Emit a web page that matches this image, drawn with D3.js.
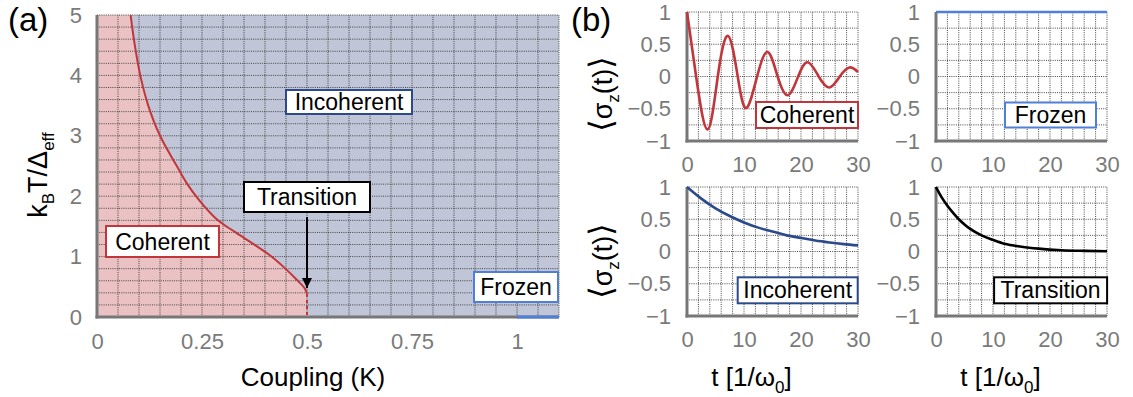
<!DOCTYPE html>
<html><head><meta charset="utf-8">
<script src="https://cdn.jsdelivr.net/npm/d3@7"></script>
<style>
body{margin:0;background:#fff;}
text{font-family:"Liberation Sans",Arial,sans-serif;}
</style></head>
<body><svg id="c" width="1133" height="397"></svg>
<script>
// ---------- DATA ----------
// Panel (a): phase boundary (coupling K vs k_B T / Delta_eff)
const boundaryK = [0.08, 0.09, 0.103, 0.122, 0.15, 0.19, 0.215, 0.245, 0.285, 0.33, 0.37, 0.41, 0.444, 0.475, 0.495, 0.5];
const boundaryT = [5, 4.5, 4, 3.5, 3, 2.5, 2.2, 1.92, 1.62, 1.4, 1.22, 1.03, 0.83, 0.62, 0.47, 0.38];
const transitionK = 0.5;
const frozenK = [1, 1.1];
const xTicksA = [0, 0.25, 0.5, 0.75, 1];
const xTickLabelsA = ["0", "0.25", "0.5", "0.75", "1"];
const yTicksA = [0, 1, 2, 3, 4, 5];

// Panel (b): <sigma_z(t)> time traces
const coherentTime = [0, 1.6, 3.6, 5.4, 7.2, 8.9, 10.4, 12.3, 14.15, 15.9, 17.7, 19.5, 21.2, 23.1, 25.0, 26.8, 28.5, 30];
const coherentVal  = [1, 0, -0.82, 0, 0.63, 0, -0.49, 0, 0.38, 0, -0.29, 0, 0.22, 0, -0.17, 0, 0.14, 0.07];
const frozenTime = [0, 30];
const frozenVal  = [1, 1];
const incoherentTime = [0, 2.5, 5, 7.5, 10, 12.5, 15, 17.5, 20, 22.5, 25, 27.5, 30];
const incoherentVal  = [1, 0.82, 0.67, 0.55, 0.45, 0.37, 0.31, 0.25, 0.21, 0.17, 0.14, 0.115, 0.095];
const transitionTime = [0, 1, 2, 3, 4, 5, 6, 8, 10, 12, 15, 18, 22, 26, 30];
const transitionVal  = [1, 0.84, 0.71, 0.6, 0.5, 0.42, 0.35, 0.25, 0.18, 0.12, 0.075, 0.045, 0.02, 0.01, 0.005];
const xTicksB = [0, 10, 20, 30];
const yTicksB = [-1, -0.5, 0, 0.5, 1];
const yTickLabelsB = ["\u22121", "\u22120.5", "0", "0.5", "1"];

// ---------- STYLE ----------
const RED = "#c1363b", NAVY = "#2b4a8b", LBLUE = "#4f80d6", BLACK = "#000";
const PINK = "#ebc2c4", BLUEGRAY = "#c0c6d8", AXIS = "#777", TICKC = "#7a7a7a";

const svg = d3.select("#c");

function gridLines(g, xs, ys, x, y) {
  g.selectAll(null).data(xs).join("line")
    .attr("x1", d => x(d)).attr("x2", d => x(d))
    .attr("y1", y.range()[0]).attr("y2", y.range()[1])
    .attr("stroke", "#333").attr("stroke-width", 0.9).attr("stroke-dasharray", "1,1.2");
  g.selectAll(null).data(ys).join("line")
    .attr("y1", d => y(d)).attr("y2", d => y(d))
    .attr("x1", x.range()[0]).attr("x2", x.range()[1])
    .attr("stroke", "#333").attr("stroke-width", 0.9).attr("stroke-dasharray", "1,1.2");
}
function range(a, b, s) { const r = []; for (let v = a; v <= b + 1e-9; v += s) r.push(+v.toFixed(4)); return r; }

function labelBox(g, cx, cy, w, h, txt, col, fs) {
  g.append("rect").attr("x", cx - w / 2).attr("y", cy - h / 2).attr("width", w).attr("height", h)
    .attr("fill", "#fff").attr("stroke", col).attr("stroke-width", 2);
  g.append("text").attr("x", cx).attr("y", cy).attr("text-anchor", "middle")
    .attr("dominant-baseline", "central").attr("font-size", fs).attr("fill", "#000").text(txt);
}

// ---------- PANEL (a) ----------
const xA = d3.scaleLinear().domain([0, 1.1]).range([97, 559]);
const yA = d3.scaleLinear().domain([0, 5]).range([317, 15]);
const gA = svg.append("g");

gA.append("rect").attr("x", xA(0)).attr("y", yA(5)).attr("width", xA(1.1) - xA(0)).attr("height", yA(0) - yA(5))
  .attr("fill", BLUEGRAY);
const bpts = boundaryK.map((k, i) => [k, boundaryT[i]]);
const lineA = d3.line().x(d => xA(d[0])).y(d => yA(d[1])).curve(d3.curveCatmullRom.alpha(0.5));
const curvePath = lineA(bpts);
gA.append("path")
  .attr("d", curvePath + "L" + xA(transitionK) + "," + yA(0) + "L" + xA(0) + "," + yA(0) + "L" + xA(0) + "," + yA(5) + "Z")
  .attr("fill", PINK);

gridLines(gA, range(0, 1.1, 0.05), range(0, 5, 0.2), xA, yA);

gA.append("path").attr("d", curvePath).attr("fill", "none").attr("stroke", RED).attr("stroke-width", 2);
gA.append("line").attr("x1", xA(transitionK)).attr("x2", xA(transitionK))
  .attr("y1", yA(boundaryT[boundaryT.length - 1])).attr("y2", yA(0))
  .attr("stroke", RED).attr("stroke-width", 2).attr("stroke-dasharray", "3,3");

// axes lines
gA.append("line").attr("x1", xA(0)).attr("x2", xA(0)).attr("y1", yA(5)).attr("y2", yA(0) + 1.5)
  .attr("stroke", AXIS).attr("stroke-width", 3);
gA.append("line").attr("x1", xA(0) - 1.5).attr("x2", xA(1.1)).attr("y1", yA(0)).attr("y2", yA(0))
  .attr("stroke", AXIS).attr("stroke-width", 3);
gA.append("line").attr("x1", xA(frozenK[0])).attr("x2", xA(frozenK[1])).attr("y1", yA(0)).attr("y2", yA(0))
  .attr("stroke", LBLUE).attr("stroke-width", 3);

const axA_x = d3.axisBottom(xA).tickValues(xTicksA).tickFormat((d, i) => xTickLabelsA[i]).tickSize(0).tickPadding(16);
gA.append("g").attr("transform", `translate(0,${yA(0)})`).call(axA_x)
  .call(g => g.select(".domain").remove())
  .selectAll("text").attr("font-size", 22).attr("fill", TICKC).attr("font-family", "Liberation Sans, Arial, sans-serif");
const axA_y = d3.axisLeft(yA).tickValues(yTicksA).tickFormat(d3.format("d")).tickSize(0).tickPadding(15);
gA.append("g").attr("transform", `translate(${xA(0)},0)`).call(axA_y)
  .call(g => g.select(".domain").remove())
  .selectAll("text").attr("font-size", 22).attr("fill", TICKC).attr("font-family", "Liberation Sans, Arial, sans-serif");

// axis labels
gA.append("text").attr("x", 313).attr("y", 386).attr("text-anchor", "middle").attr("font-size", 26).text("Coupling (K)");
const yl = gA.append("text").attr("transform", "translate(47,175) rotate(-90)").attr("text-anchor", "middle").attr("font-size", 27);
yl.append("tspan").text("k");
yl.append("tspan").attr("font-size", 17).attr("dy", 7).text("B");
yl.append("tspan").attr("dy", -7).text("T/\u0394");
yl.append("tspan").attr("font-size", 17).attr("dy", 7).text("eff");

// annotations
labelBox(gA, 349, 102, 126, 24, "Incoherent", NAVY, 23);
labelBox(gA, 307, 197, 126, 30, "Transition", BLACK, 23);
labelBox(gA, 162.5, 241.5, 113, 31, "Coherent", RED, 23);
labelBox(gA, 516, 287, 84, 30, "Frozen", LBLUE, 23);
gA.append("defs").append("marker").attr("id", "arr").attr("viewBox", "0 0 10 10").attr("refX", 10).attr("refY", 5)
  .attr("markerWidth", 10).attr("markerHeight", 12).attr("markerUnits", "userSpaceOnUse").attr("orient", "auto")
  .append("path").attr("d", "M0,0L10,5L0,10Z").attr("fill", "#000");
gA.append("line").attr("x1", xA(transitionK)).attr("x2", xA(transitionK)).attr("y1", 217).attr("y2", 288)
  .attr("stroke", "#000").attr("stroke-width", 2).attr("marker-end", "url(#arr)");

svg.append("text").attr("x", 8).attr("y", 31).attr("font-size", 33).attr("font-family", "DejaVu Sans, sans-serif").text("(a)");
svg.append("text").attr("x", 571).attr("y", 31).attr("font-size", 33).attr("font-family", "DejaVu Sans, sans-serif").text("(b)");

// ---------- PANEL (b) ----------
function subplot(x0, x1, y0, y1, times, vals, col, name, box, showYLabel, showXLabel, ylabCy, curve) {
  const x = d3.scaleLinear().domain([0, 30]).range([x0, x1]);
  const y = d3.scaleLinear().domain([-1, 1]).range([y1, y0]);
  const g = svg.append("g");
  gridLines(g, range(0, 30, 2), range(-1, 1, 0.25), x, y);
  g.append("line").attr("x1", x0).attr("x2", x0).attr("y1", y0).attr("y2", y1 + 1.5).attr("stroke", AXIS).attr("stroke-width", 3);
  g.append("line").attr("x1", x0 - 1.5).attr("x2", x1).attr("y1", y1).attr("y2", y1).attr("stroke", AXIS).attr("stroke-width", 3);
  const pts = times.map((t, i) => [t, vals[i]]);
  g.append("path").attr("d", d3.line().x(d => x(d[0])).y(d => y(d[1])).curve(curve)(pts))
    .attr("fill", "none").attr("stroke", col).attr("stroke-width", 2.6);
  g.append("g").attr("transform", `translate(0,${y1})`)
    .call(d3.axisBottom(x).tickValues(xTicksB).tickSize(0).tickPadding(15))
    .call(a => a.select(".domain").remove())
    .selectAll("text").attr("font-size", 22).attr("fill", TICKC).attr("font-family", "Liberation Sans, Arial, sans-serif");
  g.append("g").attr("transform", `translate(${x0},0)`)
    .call(d3.axisLeft(y).tickValues(yTicksB).tickFormat((d, i) => yTickLabelsB[i]).tickSize(0).tickPadding(16))
    .call(a => a.select(".domain").remove())
    .selectAll("text").attr("font-size", 22).attr("fill", TICKC).attr("font-family", "Liberation Sans, Arial, sans-serif");
  labelBox(g, box[0], box[1], box[2], box[3], name, col, 23);
  if (showYLabel) {
    const t = g.append("text").attr("transform", `translate(612,${ylabCy}) rotate(-90)`).attr("text-anchor", "middle")
      .attr("font-size", 27).attr("font-family", "Liberation Sans, DejaVu Sans, sans-serif");
    t.append("tspan").attr("font-size", 32).attr("font-family", "DejaVu Sans, sans-serif").text("\u27E8");
    t.append("tspan").text("\u03C3");
    t.append("tspan").attr("font-size", 17).attr("dy", 7).text("z");
    t.append("tspan").attr("dy", -7).text("(t)");
    t.append("tspan").attr("font-size", 32).attr("font-family", "DejaVu Sans, sans-serif").text("\u27E9");
  }
  if (showXLabel) {
    const t = g.append("text").attr("x", (x0 + x1) / 2 - 21).attr("y", 386).attr("text-anchor", "middle").attr("font-size", 26);
    t.append("tspan").text("t [1/\u03C9");
    t.append("tspan").attr("font-size", 17).attr("dy", 7).text("0");
    t.append("tspan").attr("dy", -7).text("]");
  }
}
subplot(687, 858, 12, 141, coherentTime, coherentVal, RED, "Coherent", [807, 115, 102, 26], true, false, 94, d3.curveNatural);
subplot(936, 1107, 12, 141, frozenTime, frozenVal, LBLUE, "Frozen", [1050.5, 115, 91, 25], false, false, 0, d3.curveLinear);
subplot(687, 858, 187, 316, incoherentTime, incoherentVal, NAVY, "Incoherent", [797.7, 290.3, 120, 26], true, true, 261, d3.curveMonotoneX);
subplot(936, 1107, 187, 316, transitionTime, transitionVal, BLACK, "Transition", [1050.6, 290.3, 113, 26], false, true, 0, d3.curveMonotoneX);
</script></body></html>
